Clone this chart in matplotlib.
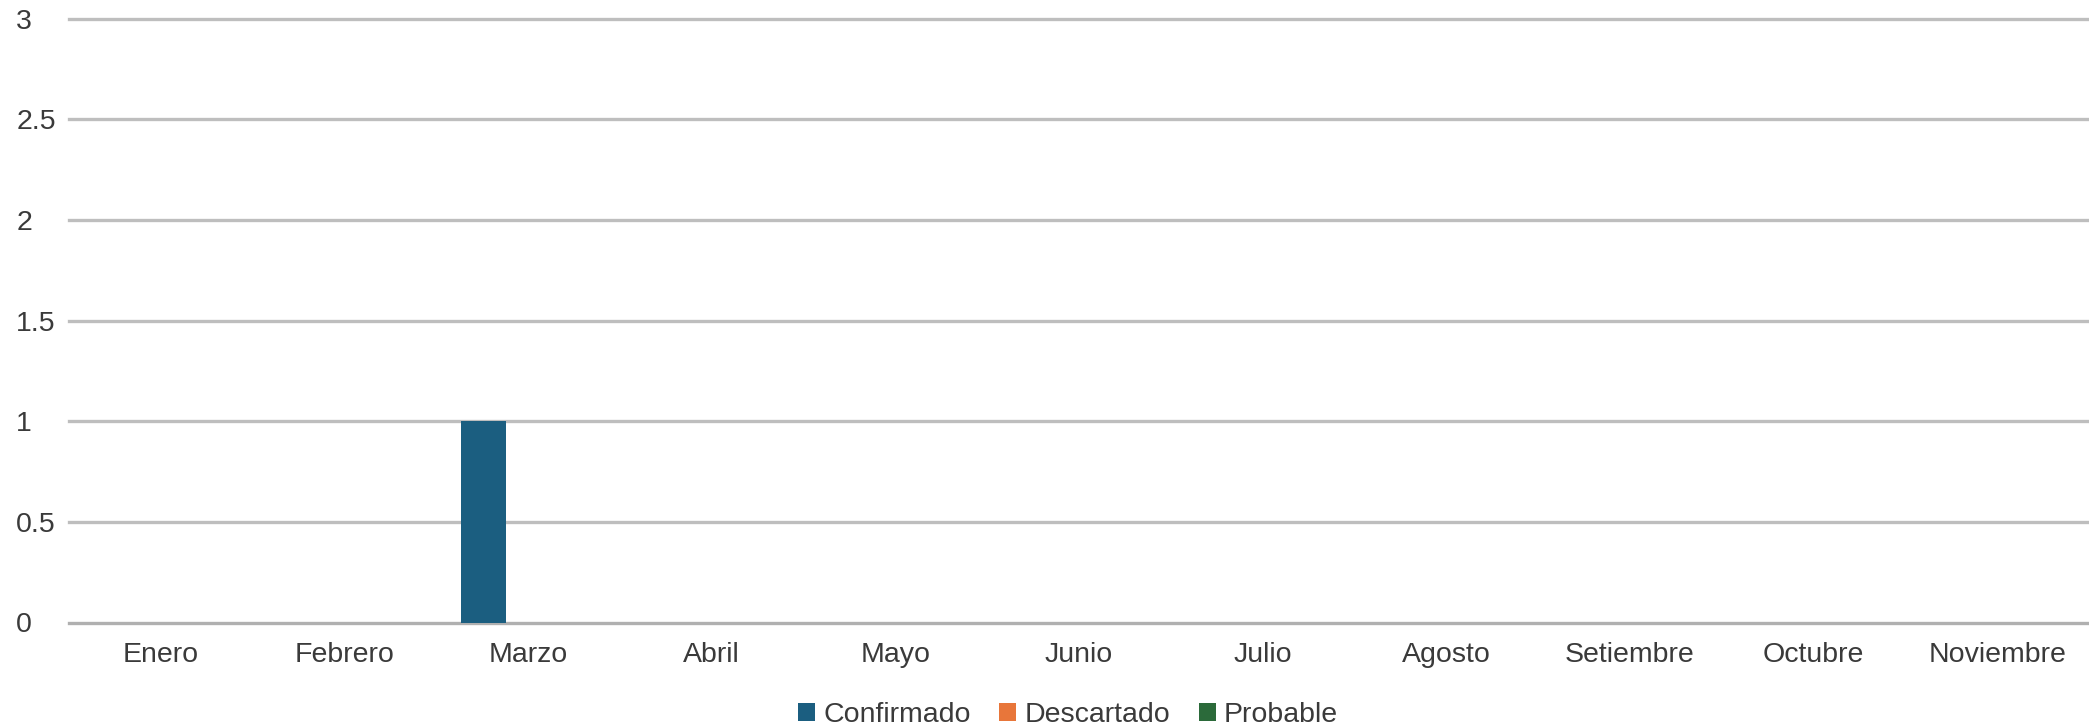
import numpy as np
import matplotlib.pyplot as plt
from matplotlib.patches import Patch

plt.rcParams['font.family'] = ['Liberation Sans', 'DejaVu Sans']

meses = ['Enero', 'Febrero', 'Marzo', 'Abril', 'Mayo', 'Junio', 'Julio',
         'Agosto', 'Setiembre', 'Octubre', 'Noviembre']
confirmado = [0, 0, 1, 0, 0, 0, 0, 0, 0, 0, 0]
descartado = [0, 0, 0, 0, 0, 0, 0, 0, 0, 0, 0]
probable = [0, 0, 0, 0, 0, 0, 0, 0, 0, 0, 0]
series = ['Confirmado', 'Descartado', 'Probable']
colores = ['#1b5e80', '#e8763a', '#2b6a3a']
yticks = [0, 0.5, 1, 1.5, 2, 2.5, 3]

fig = plt.figure(figsize=(20.89, 7.28), dpi=100)
ax = fig.add_axes([69 / 2089, 1 - 622.5 / 728, 1 - 69 / 2089, (622.5 - 18.7) / 728])

x = np.arange(len(meses))
w = 0.245
for i, (vals, col) in enumerate(zip([confirmado, descartado, probable], colores)):
    ax.bar(x + (i - 1) * w, vals, width=w, color=col, zorder=3)

ax.set_xlim(-0.5, len(meses) - 0.5)
ax.set_ylim(0, 3)
ax.set_yticks(yticks)
ax.set_yticklabels([('%g' % v) for v in yticks])
ax.set_xticks(x)
ax.set_xticklabels(meses)
for s in ax.spines.values():
    s.set_visible(False)
# gridlines drawn by hand so the baseline can be a touch darker
for v in yticks:
    ax.axhline(v, color='#bebebe' if v else '#b0b0b0', lw=2.4, zorder=1, clip_on=False)
ax.tick_params(axis='both', length=0, labelsize=20.5, labelcolor='#3a3a3a')
ax.tick_params(axis='y', pad=38)
ax.tick_params(axis='x', pad=14)
for lbl in ax.get_yticklabels():
    lbl.set_horizontalalignment('left')

handles = [Patch(facecolor=c, edgecolor='none', label=s) for s, c in zip(series, colores)]
fig.legend(handles=handles, loc='center', bbox_to_anchor=(1068 / 2089, 1 - 715 / 728),
           ncol=3, frameon=False, fontsize=20.5, handlelength=0.6, handleheight=0.6,
           handletextpad=0.28, columnspacing=1.0, labelcolor='#3a3a3a', borderpad=0)

fig.savefig('out.png', dpi=100)
